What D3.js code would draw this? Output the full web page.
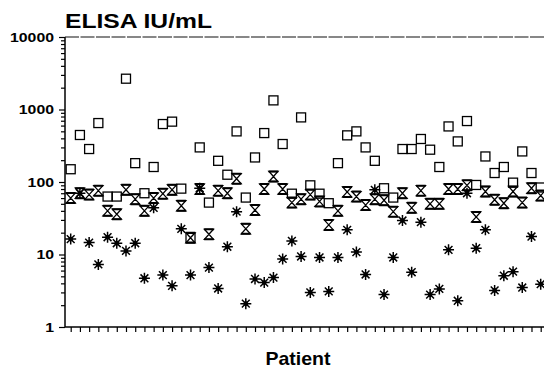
<!DOCTYPE html>
<html>
<head>
<meta charset="utf-8">
<script src="https://cdn.jsdelivr.net/npm/d3@7"></script>
<style>
  body { margin: 0; background: #fff; }
  text { font-family: "Liberation Sans", Arial, sans-serif; font-weight: bold; fill: #000; }
</style>
</head>
<body>
<div id="chart"></div>
<script>
// patients 1..52, three series per patient (log scale IU/mL)
const patients = d3.range(1, 53);
const squareVals = [150, 445, 285, 650, 63, 63, 2660, 182, 70, 161, 630, 680, 81, 17, 300, 52, 196, 126,
  499, 61, 218, 473, 1336, 334, 69, 778, 90, 69, 51, 182, 440, 499, 300, 196, 82, 61, 285, 285, 392,
  279, 161, 584, 363, 693, 91, 225, 133, 161, 98, 264, 133, 84];
const hourglassVals = [60, 70, 67, 76, 40, 36, 78, 58, 40, 60, 69, 78, 47, 17, 80, 19, 76, 70,
  111, 22.6, 41, 80, 119, 80, 52, 58, 67, 54, 25.6, 40, 73, 63, 48, 58, 56, 39, 70, 44, 76,
  50, 50, 80, 80, 90, 33, 74, 57, 51, 74, 52, 82, 65];
const asteriskVals = [16.3, 70, 14.6, 7.3, 17.3, 14.3, 11.2, 14.3, 4.7, 44, 5.2, 3.7, 22.6, 5.2, 82, 6.6, 3.4, 12.8,
  39, 2.1, 4.6, 4.1, 4.8, 8.7, 15.4, 9.4, 3.0, 9.1, 3.1, 9.1, 21.9, 10.8, 5.3, 78, 2.8, 9.1, 29.4, 5.7, 27.9,
  2.8, 3.35, 11.6, 2.3, 70, 12.2, 21.9, 3.2, 5.1, 5.8, 3.5, 17.7, 3.9];
const decadeLabels = ["1", "10", "100", "1000", "10000"];

const width = 544, height = 378;
const plotL = 65, plotR = 544, plotT = 37, plotB = 327;

const svg = d3.select("#chart").append("svg")
  .attr("width", width).attr("height", height);

const x = d3.scalePoint().domain(patients).range([70.7, 540.7]);
const y = d3.scaleLog().domain([1, 10000]).range([plotB, plotT]);

// title
svg.append("text").attr("x", 65).attr("y", 27.5)
  .attr("font-size", 20).attr("textLength", 147).attr("lengthAdjust", "spacingAndGlyphs")
  .text("ELISA IU/mL");

// y axis ticks (log, minor 2..9)
let yTicks = [];
for (let d = 1; d < 10000; d *= 10) for (let k = 1; k < 10; k++) yTicks.push(d * k);
yTicks.push(10000);
const yAxis = svg.append("g").attr("transform", `translate(${plotL},0)`)
  .call(d3.axisLeft(y).tickValues(yTicks).tickSize(4).tickFormat(""));
yAxis.select(".domain").remove();
yAxis.selectAll(".tick line").attr("stroke", "#000").attr("stroke-width", 1.2)
  .attr("x2", d => decadeLabels.includes(String(d)) ? -6 : -4);

decadeLabels.forEach(lbl => {
  svg.append("text")
    .attr("x", 54).attr("y", y(+lbl) + 4.6)
    .attr("text-anchor", "end")
    .attr("font-size", 13)
    .attr("textLength", lbl.length * 8.8).attr("lengthAdjust", "spacingAndGlyphs")
    .text(lbl);
});

// x axis ticks
const xAxis = svg.append("g").attr("transform", `translate(0,${plotB})`)
  .call(d3.axisBottom(x).tickSize(5).tickFormat(""));
xAxis.select(".domain").remove();
xAxis.selectAll(".tick line").attr("stroke", "#000").attr("stroke-width", 1.2);

// frame lines
svg.append("line").attr("x1", plotL).attr("x2", plotL).attr("y1", plotT).attr("y2", plotB)
  .attr("stroke", "#000").attr("stroke-width", 1.5);
svg.append("line").attr("x1", plotL).attr("x2", plotR).attr("y1", plotB).attr("y2", plotB)
  .attr("stroke", "#000").attr("stroke-width", 1.5);
svg.append("line").attr("x1", plotL).attr("x2", plotR).attr("y1", plotT).attr("y2", plotT)
  .attr("stroke", "#111").attr("stroke-width", 1.1).attr("stroke-dasharray", "14 1.5");

// x title
svg.append("text").attr("x", 298).attr("y", 365)
  .attr("text-anchor", "middle").attr("font-size", 19)
  .attr("textLength", 65).attr("lengthAdjust", "spacingAndGlyphs")
  .text("Patient");

// markers
svg.append("g").selectAll("rect")
  .data(patients.map((p, i) => [p, squareVals[i]]))
  .enter().append("rect")
  .attr("x", d => x(d[0]) - 4.5).attr("y", d => y(d[1]) - 4.5)
  .attr("width", 9).attr("height", 9)
  .attr("fill", "none").attr("stroke", "#000").attr("stroke-width", 1.3);

const hourglass = "M-4.5,-5H4.5L0,0Z M-4.5,5H4.5L0,0Z";
const hg = svg.append("g").selectAll("g")
  .data(patients.map((p, i) => [p, hourglassVals[i]]))
  .enter().append("g")
  .attr("transform", d => `translate(${x(d[0])},${y(d[1])})`);
hg.append("path").attr("d", hourglass)
  .attr("fill", "none").attr("stroke", "#000").attr("stroke-width", 1.3);
hg.append("path").attr("d", "M-4.8,-5H4.8M-4.8,5H4.8")
  .attr("stroke", "#000").attr("stroke-width", 2);

const star = "M-5.5,0H5.5M0,-5.5V5.5M-3.9,-3.9L3.9,3.9M-3.9,3.9L3.9,-3.9";
const ast = svg.append("g").selectAll("g")
  .data(patients.map((p, i) => [p, asteriskVals[i]]))
  .enter().append("g")
  .attr("transform", d => `translate(${x(d[0])},${y(d[1])})`);
ast.append("path").attr("d", star).attr("stroke", "#000").attr("stroke-width", 1.5);
ast.append("circle").attr("r", 2.3).attr("fill", "#000");
</script>
</body>
</html>
